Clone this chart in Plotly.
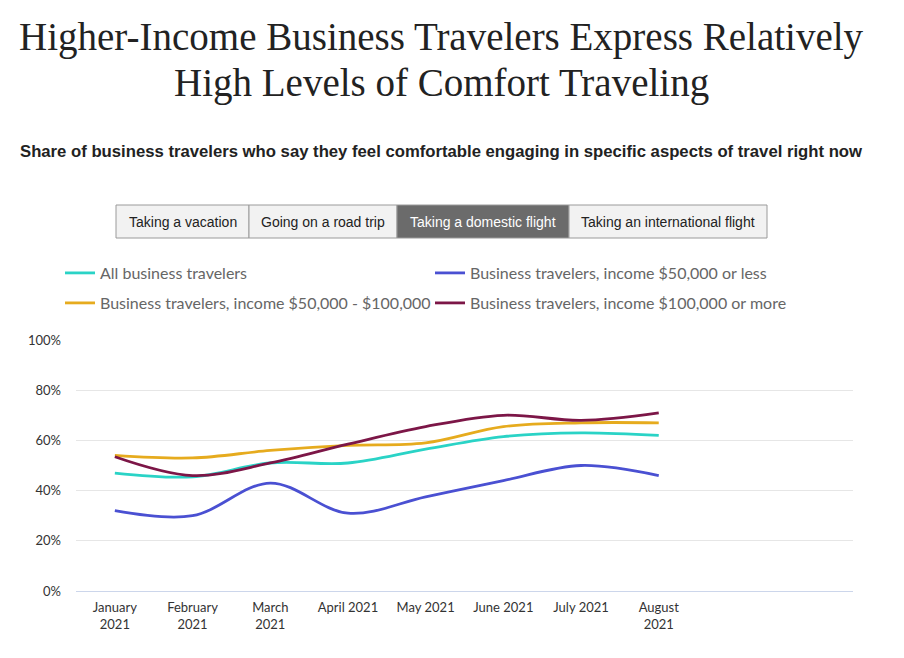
import plotly.graph_objects as go

months = ["January<br>2021", "February<br>2021", "March<br>2021", "April 2021",
          "May 2021", "June 2021", "July 2021", "August<br>2021"]

all_travelers = [47, 45.5, 51, 51, 56.5, 61.5, 63, 62]
income_low = [32, 30, 43, 31, 37.5, 44, 50, 46]
income_mid = [54, 53, 56, 58, 59, 65.5, 67, 67]
income_high = [53.5, 46, 51, 58.5, 65.5, 70, 68, 71]

series_names = ["All business travelers",
                "Business travelers, income $50,000 or less",
                "Business travelers, income $50,000 - $100,000",
                "Business travelers, income $100,000 or more"]
series_values = [all_travelers, income_low, income_mid, income_high]
series_colors = ["#2ad3c6", "#4a50d2", "#e6ab1e", "#7c1647"]
series_legend = ["legend", "legend", "legend2", "legend2"]

y_ticks = [0, 20, 40, 60, 80, 100]
y_tick_labels = ["0%", "20%", "40%", "60%", "80%", "100%"]

tabs = ["Taking a vacation", "Going on a road trip",
        "Taking a domestic flight", "Taking an international flight"]
active_tab = 2

# page is 904x658, body margin 8px, so figure is 888x642
W, H = 888, 642
OFF = 8
# plot area in page pixels
L, R, T, B = 76, 853, 340, 591


def px(x):
    return (x - L) / (R - L)


def py(y):
    return (B - y) / (B - T)


fig = go.Figure()
for name, vals, col, lg in zip(series_names, series_values, series_colors, series_legend):
    fig.add_trace(go.Scatter(
        x=list(range(len(months))), y=vals, name=name, mode='lines', legend=lg,
        line=dict(color=col, width=2.8, shape='spline', smoothing=1),
        hovertemplate='%{y}%<extra>' + name + '</extra>'))

# tab buttons
tab_edges = [116, 249, 397, 569, 767]
shapes = []
annotations = []
for i, label in enumerate(tabs):
    active = i == active_tab
    shapes.append(dict(
        type='rect', xref='paper', yref='paper',
        x0=px(tab_edges[i]), x1=px(tab_edges[i + 1]), y0=py(238), y1=py(205),
        fillcolor='#6b6b6b' if active else '#f2f2f2',
        line=dict(color='#9a9a9a', width=1), layer='above'))
    annotations.append(dict(
        text=label, xref='paper', yref='paper', showarrow=False,
        x=px((tab_edges[i] + tab_edges[i + 1]) / 2), y=py(221.5),
        xanchor='center', yanchor='middle',
        font=dict(family='Liberation Sans', size=14,
                  color='#ffffff' if active else '#222222')))

title_lines = ["Higher-Income Business Travelers Express Relatively",
               "High Levels of Comfort Traveling"]
for line, yc in zip(title_lines, [37, 83]):
    annotations.append(dict(
        text=line, xref='paper', yref='paper', x=px(441), y=py(yc),
        xanchor='center', yanchor='middle', showarrow=False,
        font=dict(family='Liberation Serif', size=39, color='#222222')))
annotations.append(dict(
    text="<b>Share of business travelers who say they feel comfortable engaging in specific aspects of travel right now</b>",
    xref='paper', yref='paper', x=px(441), y=py(151), xanchor='center', yanchor='middle',
    showarrow=False, font=dict(family='Liberation Sans', size=16.7, color='#222222')))

legend_style = dict(orientation='h', xanchor='left', yanchor='middle',
                    entrywidth=325, entrywidthmode='pixels',
                    font=dict(family='Lato', size=16, color='#666666'),
                    traceorder='normal', bgcolor='rgba(0,0,0,0)')

fig.update_layout(
    width=W, height=H,
    margin=dict(l=L - OFF, r=W + OFF - R, t=T - OFF, b=H + OFF - B),
    paper_bgcolor='white', plot_bgcolor='white',
    font=dict(family='Lato', color='#333333'),
    showlegend=True,
    legend=dict(legend_style, x=px(60), y=py(273)),
    legend2=dict(legend_style, x=px(60), y=py(303)),
    xaxis=dict(tickmode='array', tickvals=list(range(len(months))), ticktext=months,
               range=[-0.5, 9.5], showgrid=False, zeroline=False,
               showline=True, linecolor='#ccd6eb', linewidth=1, ticks='',
               ticklabelstandoff=4,
               tickfont=dict(family='Lato', size=13, color='#333333'), fixedrange=True),
    yaxis=dict(range=[0, 100], tickmode='array', tickvals=y_ticks, ticktext=y_tick_labels,
               showgrid=True, gridcolor='#e6e6e6', zeroline=False,
               tickfont=dict(family='Lato', size=13, color='#333333'),
               ticklabelstandoff=14, fixedrange=True),
    shapes=shapes,
    annotations=annotations,
)

fig.write_html("out.html")
